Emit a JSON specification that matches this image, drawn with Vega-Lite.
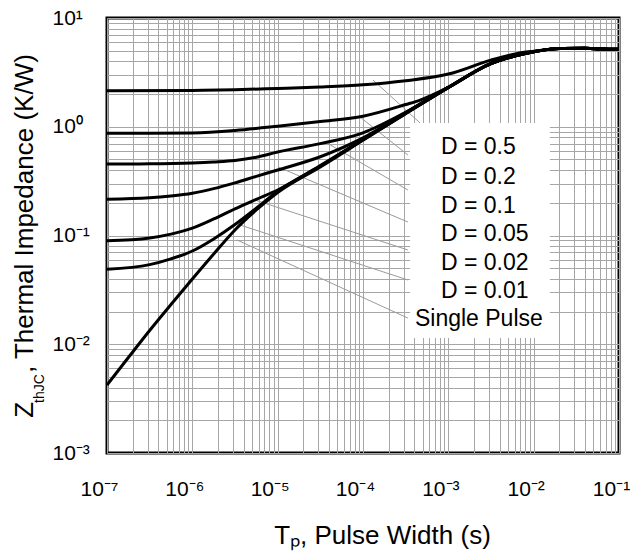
{
  "$schema": "https://vega.github.io/schema/vega-lite/v6.json",
  "width": 512,
  "height": 435,
  "autosize": {"type": "none"},
  "padding": {"left": 107, "top": 18, "right": 15, "bottom": 99},
  "background": "white",
  "title": {"text": "TO-220", "fontSize": 22, "fontWeight": "bold", "font": "Liberation Sans", "color": "black", "offset": 4, "anchor": "middle"},
  "config": {"view": {"stroke": "black", "strokeWidth": 3}, "font": "Liberation Sans"},
  "resolve": {"axis": {"x": "independent", "y": "independent"}},
  "datasets": {
    "curves": [
      {"s": "0.5", "t": 1e-7, "z": 2.14}, {"s": "0.5", "t": 1e-6, "z": 2.16}, {"s": "0.5", "t": 3.16e-6, "z": 2.19}, {"s": "0.5", "t": 1e-5, "z": 2.25}, {"s": "0.5", "t": 3.16e-5, "z": 2.32}, {"s": "0.5", "t": 1e-4, "z": 2.43}, {"s": "0.5", "t": 3.16e-4, "z": 2.65}, {"s": "0.5", "t": 1e-3, "z": 3.05}, {"s": "0.5", "t": 3.16e-3, "z": 4.1}, {"s": "0.5", "t": 6.3e-3, "z": 4.7}, {"s": "0.5", "t": 0.01, "z": 4.95}, {"s": "0.5", "t": 0.02, "z": 5.25}, {"s": "0.5", "t": 0.04, "z": 5.27}, {"s": "0.5", "t": 0.063, "z": 5.19}, {"s": "0.5", "t": 0.1, "z": 5.15},
      {"s": "0.2", "t": 1e-7, "z": 0.87}, {"s": "0.2", "t": 3.16e-7, "z": 0.871}, {"s": "0.2", "t": 1e-6, "z": 0.878}, {"s": "0.2", "t": 3.16e-6, "z": 0.925}, {"s": "0.2", "t": 1e-5, "z": 1.01}, {"s": "0.2", "t": 3.16e-5, "z": 1.115}, {"s": "0.2", "t": 1e-4, "z": 1.25}, {"s": "0.2", "t": 3.16e-4, "z": 1.6}, {"s": "0.2", "t": 4.68e-4, "z": 1.76}, {"s": "0.2", "t": 1e-3, "z": 2.3}, {"s": "0.2", "t": 3.16e-3, "z": 3.85}, {"s": "0.2", "t": 6.3e-3, "z": 4.55}, {"s": "0.2", "t": 0.01, "z": 4.9}, {"s": "0.2", "t": 0.02, "z": 5.25}, {"s": "0.2", "t": 0.04, "z": 5.27}, {"s": "0.2", "t": 0.063, "z": 5.19}, {"s": "0.2", "t": 0.1, "z": 5.15},
      {"s": "0.1", "t": 1e-7, "z": 0.454}, {"s": "0.1", "t": 3.16e-7, "z": 0.456}, {"s": "0.1", "t": 1e-6, "z": 0.465}, {"s": "0.1", "t": 1.78e-6, "z": 0.475}, {"s": "0.1", "t": 3.16e-6, "z": 0.49}, {"s": "0.1", "t": 5.62e-6, "z": 0.525}, {"s": "0.1", "t": 1e-5, "z": 0.585}, {"s": "0.1", "t": 3.16e-5, "z": 0.7}, {"s": "0.1", "t": 1e-4, "z": 0.88}, {"s": "0.1", "t": 3.16e-4, "z": 1.36}, {"s": "0.1", "t": 1e-3, "z": 2.3}, {"s": "0.1", "t": 3.16e-3, "z": 3.8}, {"s": "0.1", "t": 6.3e-3, "z": 4.52}, {"s": "0.1", "t": 0.01, "z": 4.9}, {"s": "0.1", "t": 0.02, "z": 5.25}, {"s": "0.1", "t": 0.04, "z": 5.27}, {"s": "0.1", "t": 0.063, "z": 5.19}, {"s": "0.1", "t": 0.1, "z": 5.15},
      {"s": "0.05", "t": 1e-7, "z": 0.2155}, {"s": "0.05", "t": 3.16e-7, "z": 0.222}, {"s": "0.05", "t": 5.62e-7, "z": 0.231}, {"s": "0.05", "t": 1e-6, "z": 0.245}, {"s": "0.05", "t": 1.78e-6, "z": 0.27}, {"s": "0.05", "t": 3.16e-6, "z": 0.305}, {"s": "0.05", "t": 5.62e-6, "z": 0.35}, {"s": "0.05", "t": 1e-5, "z": 0.4}, {"s": "0.05", "t": 3.16e-5, "z": 0.53}, {"s": "0.05", "t": 1e-4, "z": 0.79}, {"s": "0.05", "t": 3.16e-4, "z": 1.35}, {"s": "0.05", "t": 1e-3, "z": 2.3}, {"s": "0.05", "t": 3.16e-3, "z": 3.8}, {"s": "0.05", "t": 6.3e-3, "z": 4.52}, {"s": "0.05", "t": 0.01, "z": 4.9}, {"s": "0.05", "t": 0.02, "z": 5.25}, {"s": "0.05", "t": 0.04, "z": 5.27}, {"s": "0.05", "t": 0.063, "z": 5.19}, {"s": "0.05", "t": 0.1, "z": 5.15},
      {"s": "0.02", "t": 1e-7, "z": 0.0895}, {"s": "0.02", "t": 3.16e-7, "z": 0.095}, {"s": "0.02", "t": 5.62e-7, "z": 0.103}, {"s": "0.02", "t": 1e-6, "z": 0.117}, {"s": "0.02", "t": 1.78e-6, "z": 0.142}, {"s": "0.02", "t": 3.16e-6, "z": 0.176}, {"s": "0.02", "t": 5.62e-6, "z": 0.215}, {"s": "0.02", "t": 1e-5, "z": 0.262}, {"s": "0.02", "t": 3.16e-5, "z": 0.44}, {"s": "0.02", "t": 1e-4, "z": 0.765}, {"s": "0.02", "t": 3.16e-4, "z": 1.33}, {"s": "0.02", "t": 1e-3, "z": 2.3}, {"s": "0.02", "t": 3.16e-3, "z": 3.8}, {"s": "0.02", "t": 6.3e-3, "z": 4.52}, {"s": "0.02", "t": 0.01, "z": 4.9}, {"s": "0.02", "t": 0.02, "z": 5.25}, {"s": "0.02", "t": 0.04, "z": 5.27}, {"s": "0.02", "t": 0.063, "z": 5.19}, {"s": "0.02", "t": 0.1, "z": 5.15},
      {"s": "0.01", "t": 1e-7, "z": 0.049}, {"s": "0.01", "t": 3.16e-7, "z": 0.054}, {"s": "0.01", "t": 5.62e-7, "z": 0.061}, {"s": "0.01", "t": 1e-6, "z": 0.072}, {"s": "0.01", "t": 1.78e-6, "z": 0.093}, {"s": "0.01", "t": 3.16e-6, "z": 0.126}, {"s": "0.01", "t": 5.62e-6, "z": 0.178}, {"s": "0.01", "t": 1e-5, "z": 0.255}, {"s": "0.01", "t": 3.16e-5, "z": 0.435}, {"s": "0.01", "t": 1e-4, "z": 0.76}, {"s": "0.01", "t": 3.16e-4, "z": 1.325}, {"s": "0.01", "t": 1e-3, "z": 2.3}, {"s": "0.01", "t": 3.16e-3, "z": 3.8}, {"s": "0.01", "t": 6.3e-3, "z": 4.52}, {"s": "0.01", "t": 0.01, "z": 4.9}, {"s": "0.01", "t": 0.02, "z": 5.25}, {"s": "0.01", "t": 0.04, "z": 5.27}, {"s": "0.01", "t": 0.063, "z": 5.19}, {"s": "0.01", "t": 0.1, "z": 5.15},
      {"s": "single", "t": 1e-7, "z": 0.00422}, {"s": "single", "t": 1.78e-7, "z": 0.00755}, {"s": "single", "t": 3.16e-7, "z": 0.01338}, {"s": "single", "t": 5.62e-7, "z": 0.0232}, {"s": "single", "t": 1e-6, "z": 0.0398}, {"s": "single", "t": 1.78e-6, "z": 0.0676}, {"s": "single", "t": 3.16e-6, "z": 0.1124}, {"s": "single", "t": 5.62e-6, "z": 0.1716}, {"s": "single", "t": 1e-5, "z": 0.2485}, {"s": "single", "t": 3.16e-5, "z": 0.427}, {"s": "single", "t": 1e-4, "z": 0.75}, {"s": "single", "t": 3.16e-4, "z": 1.318}, {"s": "single", "t": 1e-3, "z": 2.29}, {"s": "single", "t": 3.16e-3, "z": 3.8}, {"s": "single", "t": 6.3e-3, "z": 4.52}, {"s": "single", "t": 0.01, "z": 4.9}, {"s": "single", "t": 0.02, "z": 5.25}, {"s": "single", "t": 0.04, "z": 5.27}, {"s": "single", "t": 0.063, "z": 5.19}, {"s": "single", "t": 0.1, "z": 5.15}
    ],
    "leaders": [
      {"s": "0.5", "t": 1.31e-4, "z": 2.69, "t2": 4.66e-4, "z2": 1.083},
      {"s": "0.2", "t": 9.22e-5, "z": 1.23, "t2": 3.36e-4, "z2": 0.55},
      {"s": "0.1", "t": 3.78e-5, "z": 0.71, "t2": 3.36e-4, "z2": 0.262},
      {"s": "0.05", "t": 1.01e-5, "z": 0.427, "t2": 3.36e-4, "z2": 0.133},
      {"s": "0.02", "t": 5.42e-6, "z": 0.212, "t2": 3.36e-4, "z2": 0.0736},
      {"s": "0.01", "t": 3.62e-6, "z": 0.125, "t2": 3.36e-4, "z2": 0.039},
      {"s": "single", "t": 3.33e-6, "z": 0.091, "t2": 3.36e-4, "z2": 0.0174}
    ],
    "box": [{"t": 3.56e-4, "t2": 0.0155, "z": 1.083, "z2": 0.0114}],
    "labels": [
      {"label": "D = 0.5", "t": 8.2e-4, "z": 0.652},
      {"label": "D = 0.2", "t": 8.2e-4, "z": 0.345},
      {"label": "D = 0.1", "t": 8.2e-4, "z": 0.187},
      {"label": "D = 0.05", "t": 8.2e-4, "z": 0.1033},
      {"label": "D = 0.02", "t": 8.2e-4, "z": 0.0558},
      {"label": "D = 0.01", "t": 8.2e-4, "z": 0.0309},
      {"label": "Single Pulse", "t": 4.06e-4, "z": 0.01706}
    ]
  },
  "layer": [
    {
      "data": {"name": "box"},
      "mark": {"type": "rect", "fill": "white", "strokeWidth": 0},
      "encoding": {
        "x": {"field": "t", "type": "quantitative", "scale": {"type": "log", "domain": [1e-7, 0.1], "nice": false},
          "axis": {
            "values": [1e-7,2e-7,3e-7,4e-7,5e-7,6e-7,7e-7,8e-7,9e-7,1e-6,2e-6,3e-6,4e-6,5e-6,6e-6,7e-6,8e-6,9e-6,1e-5,2e-5,3e-5,4e-5,5e-5,6e-5,7e-5,8e-5,9e-5,1e-4,2e-4,3e-4,4e-4,5e-4,6e-4,7e-4,8e-4,9e-4,1e-3,2e-3,3e-3,4e-3,5e-3,6e-3,7e-3,8e-3,9e-3,0.01,0.02,0.03,0.04,0.05,0.06,0.07,0.08,0.09,0.1],
            "labelExpr": "abs(log(datum.value)/LN10 - round(log(datum.value)/LN10)) < 0.001 ? '10' + (round(log(datum.value)/LN10) < 0 ? '⁻' : '') + ['⁰','¹','²','³','⁴','⁵','⁶','⁷','⁸','⁹'][abs(round(log(datum.value)/LN10))] : ''",
            "labelOverlap": false, "labelBound": false, "labelFlush": false,
            "labelFont": "Liberation Sans", "labelFontSize": 21, "labelColor": "black", "labelPadding": 25, "labelOffset": -8,
            "ticks": false, "domain": false, "grid": true, "gridColor": "#a6a6a6", "gridWidth": 1,
            "title": "Tₚ, Pulse Width (s)", "titleFont": "Liberation Sans", "titleFontSize": 26, "titleFontWeight": "normal", "titleColor": "black",
            "titleX": 275, "titleY": 90, "titleBaseline": "alphabetic", "titleAlign": "center"
          }},
        "x2": {"field": "t2"},
        "y": {"field": "z", "type": "quantitative", "scale": {"type": "log", "domain": [0.001, 10], "nice": false},
          "axis": {
            "values": [0.001,0.002,0.003,0.004,0.005,0.006,0.007,0.008,0.009,0.01,0.02,0.03,0.04,0.05,0.06,0.07,0.08,0.09,0.1,0.2,0.3,0.4,0.5,0.6,0.7,0.8,0.9,1,2,3,4,5,6,7,8,9,10],
            "labelExpr": "abs(log(datum.value)/LN10 - round(log(datum.value)/LN10)) < 0.001 ? '10' + (round(log(datum.value)/LN10) < 0 ? '⁻' : '') + ['⁰','¹','²','³','⁴','⁵','⁶','⁷','⁸','⁹'][abs(round(log(datum.value)/LN10))] : ''",
            "labelOverlap": false, "labelBound": false, "labelFlush": false,
            "labelFont": "Liberation Sans", "labelFontSize": 21, "labelColor": "black", "labelPadding": 55, "labelAlign": "left",
            "ticks": false, "domain": false, "grid": true, "gridColor": "#a6a6a6", "gridWidth": 1,
            "title": "Z\u00a0\u00a0\u00a0\u00a0, Thermal Impedance (K/W)", "titleFont": "Liberation Sans", "titleFontSize": 26, "titleFontWeight": "normal", "titleColor": "black",
            "titleX": -75, "titleY": 217.5, "titleAngle": -90, "titleBaseline": "alphabetic", "titleAlign": "center"
          }},
        "y2": {"field": "z2"}
      }
    },
    {
      "data": {"name": "leaders"},
      "mark": {"type": "rule", "color": "#9a9a9a", "strokeWidth": 1},
      "encoding": {
        "x": {"field": "t", "type": "quantitative", "scale": {"type": "log", "domain": [1e-7, 0.1], "nice": false}, "axis": null},
        "x2": {"field": "t2"},
        "y": {"field": "z", "type": "quantitative", "scale": {"type": "log", "domain": [0.001, 10], "nice": false}, "axis": null},
        "y2": {"field": "z2"}
      }
    },
    {
      "data": {"name": "curves"},
      "mark": {"type": "line", "color": "black", "strokeWidth": 3, "interpolate": "monotone"},
      "encoding": {
        "x": {"field": "t", "type": "quantitative", "scale": {"type": "log", "domain": [1e-7, 0.1], "nice": false}, "axis": null},
        "y": {"field": "z", "type": "quantitative", "scale": {"type": "log", "domain": [0.001, 10], "nice": false}, "axis": null},
        "detail": {"field": "s", "type": "nominal"}
      }
    },
    {
      "data": {"name": "labels"},
      "mark": {"type": "text", "align": "left", "baseline": "middle", "fontSize": 23, "font": "Liberation Sans", "color": "black"},
      "encoding": {
        "x": {"field": "t", "type": "quantitative", "scale": {"type": "log", "domain": [1e-7, 0.1], "nice": false}, "axis": null},
        "y": {"field": "z", "type": "quantitative", "scale": {"type": "log", "domain": [0.001, 10], "nice": false},
          "axis": {"orient": "left", "labels": false, "ticks": false, "domain": false, "grid": false,
            "title": "thJC", "titleFont": "Liberation Sans", "titleFontSize": 14, "titleFontWeight": "normal", "titleColor": "black",
            "titleX": -64, "titleY": 370, "titleAngle": -90, "titleBaseline": "alphabetic", "titleAlign": "center"}},
        "text": {"field": "label"}
      }
    }
  ]
}
